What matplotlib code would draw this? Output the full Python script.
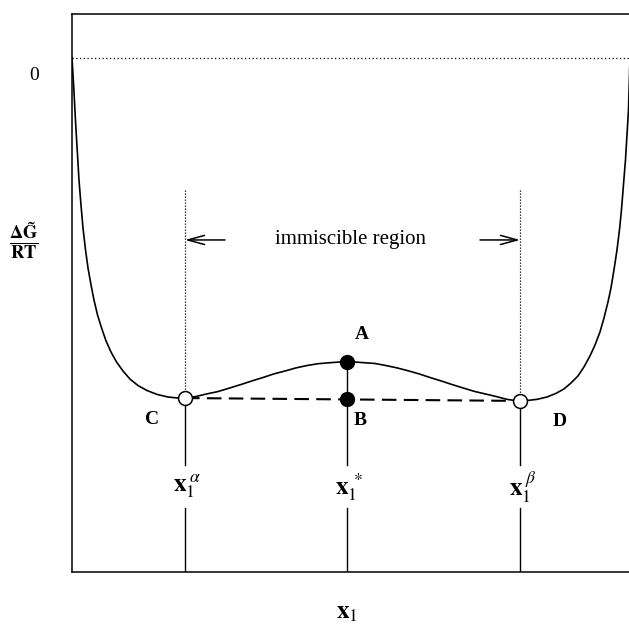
import matplotlib
matplotlib.use("Agg")
import matplotlib.pyplot as plt

plt.rcParams["mathtext.fontset"] = "stix"
plt.rcParams["font.family"] = ["Liberation Serif", "DejaVu Serif"]

# Molar Gibbs energy of mixing, dG/RT, against mole fraction x1
x_curve = [0.0, 0.0018, 0.0036, 0.0054, 0.0072, 0.0099, 0.0125, 0.0161, 0.0197,
           0.0242, 0.0287, 0.0341, 0.0394, 0.0457, 0.0529, 0.0609, 0.0699,
           0.0797, 0.0914, 0.1039, 0.1183, 0.1344, 0.1523, 0.1720, 0.1900,
           0.2025, 0.2222, 0.2419, 0.2616, 0.2831, 0.3028, 0.3226, 0.3423,
           0.3620, 0.3817, 0.4014, 0.4211, 0.4408, 0.4624, 0.4821, 0.4928,
           0.5036, 0.5233, 0.5430, 0.5627, 0.5824, 0.6022, 0.6219, 0.6416,
           0.6613, 0.6810, 0.7007, 0.7204, 0.7401, 0.7599, 0.7796, 0.7921,
           0.8029, 0.8172, 0.8333, 0.8513, 0.8674, 0.8817, 0.8943, 0.9068,
           0.9176, 0.9283, 0.9373, 0.9462, 0.9534, 0.9606, 0.9659, 0.9713,
           0.9767, 0.9811, 0.9847, 0.9883, 0.9919, 0.9946, 0.9973, 1.0]
g_curve = [0.0, -0.0065, -0.0131, -0.0208, -0.0277, -0.0373, -0.0469, -0.0565,
           -0.0654, -0.0738, -0.0808, -0.0873, -0.0931, -0.0988, -0.1038,
           -0.1088, -0.1131, -0.1169, -0.1204, -0.1235, -0.1260, -0.1279,
           -0.1294, -0.1304, -0.1308, -0.1308, -0.1302, -0.1292, -0.1283,
           -0.1269, -0.1256, -0.1242, -0.1229, -0.1215, -0.1204, -0.1192,
           -0.1183, -0.1176, -0.1172, -0.1169, -0.1169, -0.1169, -0.1172,
           -0.1175, -0.1183, -0.1192, -0.1203, -0.1215, -0.1229, -0.1242,
           -0.1256, -0.1269, -0.1282, -0.1292, -0.1302, -0.1313, -0.1317,
           -0.1319, -0.1317, -0.1313, -0.1304, -0.1290, -0.1273, -0.1250,
           -0.1223, -0.1188, -0.1146, -0.1104, -0.1054, -0.1000, -0.0938,
           -0.0885, -0.0815, -0.0738, -0.0662, -0.0585, -0.0488, -0.0392,
           -0.0296, -0.0200, 0.0]

# Coexisting phase compositions and the overall composition
x_alpha, x_star, x_beta = 0.2025, 0.4928, 0.8029
g_alpha, g_beta = -0.1308, -0.1319
g_A, g_B = -0.1169, -0.1313

point_names = ["C", "A", "B", "D"]
comp_labels = [r"$\mathbf{x}_{\mathrm{1}}^{\;\alpha}$",
               r"$\mathbf{x}_{\mathrm{1}}^{\;*}$",
               r"$\mathbf{x}_{\mathrm{1}}^{\;\beta}$"]

W, H = 629, 627
fig = plt.figure(figsize=(W / 100, H / 100), dpi=100)
ax = fig.add_axes([72 / W, 1 - 572 / H, (630 - 72) / W, (572 - 14) / H])
ax.set_xlim(0, 1)
ax.set_ylim(-0.1977, 0.0169)
ax.set_xticks([])
ax.set_yticks([])
for s in ax.spines.values():
    s.set_linewidth(1.1)
ax.spines["right"].set_visible(False)

# zero reference line
ax.axhline(0.0, color="black", lw=0.9, ls=(0, (1, 2)))

# free-energy curve
ax.plot(x_curve, g_curve, color="black", lw=1.2, zorder=3,
        solid_joinstyle="round")

# common tangent between the two phases
ax.plot([x_alpha, x_beta], [g_alpha, g_beta], color="black", lw=1.5,
        dashes=[7, 3.5], zorder=3)

# dotted bounds of the immiscible region
y_dot_top = -0.0508
for xv, gv in [(x_alpha, g_alpha), (x_beta, g_beta)]:
    ax.plot([xv, xv], [y_dot_top, gv], color="black", lw=0.9, ls=(0, (1, 1.4)))

# solid drop lines to the composition axis, broken around the labels
y_gap_top, y_gap_bot, y_lab = -0.1565, -0.1731, -0.1650
bottom = ax.get_ylim()[0]
for xv, gv in [(x_alpha, g_alpha), (x_star, g_A), (x_beta, g_beta)]:
    ax.plot([xv, xv], [gv, y_gap_top], color="black", lw=1.0, zorder=2)
    ax.plot([xv, xv], [y_gap_bot, bottom], color="black", lw=1.0, zorder=2)

# points
ax.plot([x_alpha, x_beta], [g_alpha, g_beta], "o", ms=10, mfc="white",
        mec="black", mew=1.1, zorder=5)
ax.plot([x_star, x_star], [g_A, g_B], "o", ms=10, mfc="black", mec="black",
        zorder=5)

# arrows marking the immiscible region
y_arrow = -0.0700
arrow_kw = dict(arrowstyle="->,head_length=1.2,head_width=0.33", lw=1.1,
                color="black", shrinkA=0, shrinkB=0)
ax.annotate("", xy=(x_alpha, y_arrow), xytext=(0.2742, y_arrow),
            arrowprops=arrow_kw)
ax.annotate("", xy=(x_beta, y_arrow), xytext=(0.7312, y_arrow),
            arrowprops=arrow_kw)
ax.text(0.4995, y_arrow, "immiscible region", ha="center", va="center",
        fontsize=15)

# point letters
letter_pos = {"C": (0.1437, -0.1390), "A": (0.5197, -0.1065),
              "B": (0.5161, -0.1396), "D": (0.8746, -0.1400)}
for name in point_names:
    lx, ly = letter_pos[name]
    ax.text(lx, ly, name, ha="center", va="center", fontsize=14,
            fontweight="bold")

# composition labels
for xv, lab in zip([x_alpha, x_star, x_beta], comp_labels):
    ax.text(xv + 0.004, y_lab, lab, ha="center", va="center", fontsize=18)

# axis labels
fig.text(34 / W, 1 - 76 / H, "0", ha="center", va="center", fontsize=14)
fig.text(24 / W, 1 - 241 / H,
         r"$\frac{\mathbf{\Delta\tilde{G}}}{\mathbf{RT}}$",
         ha="center", va="center", fontsize=19)
fig.text(347 / W, 1 - 613 / H, r"$\mathbf{x}_{\mathrm{1}}$", ha="center",
         va="center", fontsize=18)

fig.savefig("out.png", dpi=100)
